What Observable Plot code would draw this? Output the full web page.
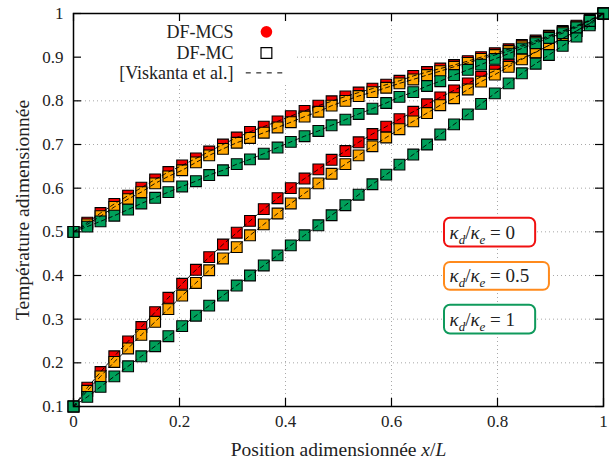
<!DOCTYPE html>
<html><head><meta charset="utf-8">
<script src="https://cdn.jsdelivr.net/npm/d3@7"></script>
<script src="https://cdn.jsdelivr.net/npm/@observablehq/plot@0.6"></script>
<style>body{margin:0;background:#fff}</style>
</head><body><div id="chart"></div>
<script>
// Positions x/L of the markers
const xPos = [0, 0.026, 0.051, 0.077, 0.103, 0.128, 0.154, 0.179, 0.205, 0.231, 0.256, 0.282, 0.308, 0.333, 0.359, 0.385, 0.41, 0.436, 0.462, 0.487, 0.513, 0.538, 0.564, 0.59, 0.615, 0.641, 0.667, 0.692, 0.718, 0.744, 0.769, 0.795, 0.821, 0.846, 0.872, 0.897, 0.923, 0.949, 0.974, 1];

// Lower set (T(0)=0.1)
const redLow = [0.1, 0.143, 0.179, 0.215, 0.249, 0.282, 0.316, 0.349, 0.381, 0.413, 0.442, 0.471, 0.498, 0.525, 0.552, 0.577, 0.600, 0.622, 0.643, 0.665, 0.685, 0.705, 0.724, 0.741, 0.758, 0.775, 0.792, 0.808, 0.824, 0.840, 0.855, 0.869, 0.883, 0.897, 0.912, 0.927, 0.943, 0.960, 0.978, 1.0];
const orangeLow = [0.1, 0.136, 0.169, 0.202, 0.233, 0.264, 0.294, 0.323, 0.354, 0.383, 0.412, 0.439, 0.465, 0.492, 0.517, 0.542, 0.565, 0.588, 0.611, 0.633, 0.655, 0.675, 0.696, 0.716, 0.735, 0.753, 0.772, 0.790, 0.806, 0.826, 0.844, 0.860, 0.878, 0.895, 0.911, 0.927, 0.943, 0.960, 0.977, 1.0];
const greenLow = [0.1, 0.122, 0.145, 0.169, 0.192, 0.215, 0.238, 0.261, 0.284, 0.308, 0.331, 0.354, 0.377, 0.400, 0.423, 0.446, 0.469, 0.492, 0.515, 0.538, 0.561, 0.585, 0.609, 0.631, 0.654, 0.677, 0.700, 0.723, 0.746, 0.769, 0.793, 0.817, 0.840, 0.863, 0.885, 0.905, 0.926, 0.947, 0.973, 1.0];

// Upper set (T(0)=0.5)
const redUp = [0.5, 0.521, 0.543, 0.564, 0.583, 0.601, 0.620, 0.637, 0.652, 0.668, 0.684, 0.700, 0.716, 0.729, 0.741, 0.753, 0.765, 0.777, 0.789, 0.799, 0.810, 0.819, 0.828, 0.837, 0.846, 0.857, 0.866, 0.874, 0.882, 0.891, 0.900, 0.909, 0.918, 0.928, 0.938, 0.949, 0.960, 0.972, 0.985, 1.0];
const orangeUp = [0.5, 0.517, 0.536, 0.557, 0.575, 0.591, 0.611, 0.627, 0.641, 0.659, 0.675, 0.690, 0.704, 0.715, 0.727, 0.739, 0.751, 0.764, 0.775, 0.789, 0.800, 0.811, 0.820, 0.830, 0.840, 0.849, 0.859, 0.868, 0.878, 0.887, 0.896, 0.905, 0.914, 0.925, 0.935, 0.947, 0.958, 0.970, 0.984, 1.0];
const greenUp = [0.5, 0.512, 0.524, 0.537, 0.551, 0.565, 0.578, 0.591, 0.604, 0.616, 0.630, 0.641, 0.655, 0.666, 0.679, 0.693, 0.706, 0.719, 0.731, 0.744, 0.757, 0.770, 0.782, 0.795, 0.809, 0.820, 0.834, 0.845, 0.859, 0.871, 0.883, 0.896, 0.908, 0.920, 0.932, 0.944, 0.955, 0.968, 0.983, 1.0];

const xTicks = [0, 0.2, 0.4, 0.6, 0.8, 1];
const xTickLabels = ["0", "0.2", "0.4", "0.6", "0.8", "1"];
const yTicks = [0.1, 0.2, 0.3, 0.4, 0.5, 0.6, 0.7, 0.8, 0.9, 1];
const yTickLabels = ["0.1", "0.2", "0.3", "0.4", "0.5", "0.6", "0.7", "0.8", "0.9", "1"];
const legendLabels = ["DF-MCS", "DF-MC", "[Viskanta et al.]"];
const ratioLabels = ["κd/κe = 0", "κd/κe = 0.5", "κd/κe = 1"];
const xTitle = "Position adimensionnée x/L";
const yTitle = "Température adimensionnée";

// styles
const FONT = "Liberation Serif";
const fillColors = ["#f20000", "#ffa600", "#00a05a"];
const boxColors = ["#f01010", "#ff8a1c", "#0f9a5c"];
const series = [
  {c: 0, v: redLow}, {c: 0, v: redUp},
  {c: 1, v: orangeLow}, {c: 1, v: orangeUp},
  {c: 2, v: greenLow}, {c: 2, v: greenUp}
];
const idx = d3.range(xPos.length);
const tickLenY = 8 * 0.9 / 393;
const tickLenX = 8 / 530;

// annotation layout (data coordinates)
const boxes = [
  {x1: 0.700, x2: 0.872, y1: 0.465, y2: 0.531},
  {x1: 0.700, x2: 0.898, y1: 0.366, y2: 0.430},
  {x1: 0.700, x2: 0.872, y1: 0.266, y2: 0.332}
];

const marks = [
  Plot.ruleX([0.2, 0.4, 0.6, 0.8], {x: d => d, stroke: "#a8a8a8", strokeWidth: 1, strokeDasharray: "1,3"}),
  Plot.ruleY([0.2, 0.3, 0.4, 0.5, 0.6, 0.7, 0.8, 0.9], {y: d => d, stroke: "#a8a8a8", strokeWidth: 1, strokeDasharray: "1,3"}),
  // legend background
  Plot.rect([0], {x1: 0, x2: 0.421, y1: 0.838, y2: 1, fill: "white"}),
  // data markers
  series.map(s => Plot.dot(idx, {x: i => xPos[i], y: i => s.v[i], symbol: "square", r: 6.1,
    fill: fillColors[s.c], stroke: "black", strokeWidth: 1.1})),
  // reference (Viskanta) dashed curves
  series.map(s => Plot.line(idx, {x: i => xPos[i], y: i => s.v[i], stroke: "black", strokeWidth: 0.9,
    strokeDasharray: "4,3.5"})),
  // ratio label boxes
  boxes.map((b, k) => Plot.rect([b], {x1: "x1", x2: "x2", y1: "y1", y2: "y2", fill: "white",
    stroke: boxColors[k], strokeWidth: 2})),
  boxes.map((b, k) => Plot.text([ratioLabels[k]], {x: b.x1, y: (b.y1 + b.y2) / 2, dx: 5, textAnchor: "start",
    fontSize: 19, fontFamily: FONT, fill: "#222"})),
  // frame and inward ticks
  Plot.frame({stroke: "black", strokeWidth: 1.5}),
  Plot.ruleX(xTicks, {x: d => d, y1: 0.1, y2: 0.1 + tickLenY, stroke: "black", strokeWidth: 1.2}),
  Plot.ruleX(xTicks, {x: d => d, y1: 1 - tickLenY, y2: 1, stroke: "black", strokeWidth: 1.2}),
  Plot.ruleY(yTicks, {y: d => d, x1: 0, x2: tickLenX, stroke: "black", strokeWidth: 1.2}),
  Plot.ruleY(yTicks, {y: d => d, x1: 1 - tickLenX, x2: 1, stroke: "black", strokeWidth: 1.2}),
  // tick labels
  Plot.text(xTickLabels, {x: (d, i) => xTicks[i], frameAnchor: "bottom", dy: 20, fontSize: 17, fontFamily: FONT, fill: "#222"}),
  Plot.text(yTickLabels, {y: (d, i) => yTicks[i], frameAnchor: "left", dx: -10, textAnchor: "end", fontSize: 17, fontFamily: FONT, fill: "#222"}),
  // axis titles
  Plot.text([xTitle], {frameAnchor: "bottom", dy: 49, textAnchor: "middle", fontSize: 19.5, fontFamily: FONT, fill: "#222"}),
  Plot.text([yTitle], {frameAnchor: "left", dx: -51, rotate: -90, textAnchor: "middle", fontSize: 19.5, fontFamily: FONT, fill: "#222"}),
  // legend
  Plot.text(legendLabels, {x: 0.302, y: (d, i) => [0.958, 0.9095, 0.864][i], textAnchor: "end", fontSize: 18, fontFamily: FONT, fill: "#222"}),
  Plot.dot([0], {x: 0.364, y: 0.958, r: 5.8, fill: "#ff0000"}),
  Plot.dot([0], {x: 0.364, y: 0.9095, symbol: "square", r: 6.1, fill: "none", stroke: "black", strokeWidth: 1.2}),
  Plot.ruleY([0.864], {y: d => d, x1: 0.326, x2: 0.397, stroke: "black", strokeWidth: 1, strokeDasharray: "5,5.5"})
];

const svg = Plot.plot({
  width: 609, height: 474,
  marginLeft: 73, marginRight: 6, marginTop: 13, marginBottom: 68,
  x: {domain: [0, 1], axis: null},
  y: {domain: [0.1, 1], axis: null},
  style: {fontFamily: FONT, background: "white"},
  marks
});

// rounded boxes
d3.select(svg).selectAll("g[aria-label='rect'] rect").each(function() {
  if (d3.select(this).attr("stroke") || d3.select(this.parentNode).attr("stroke")) d3.select(this).attr("rx", 6).attr("ry", 6);
});

// math formatting
d3.select(svg).selectAll("text").each(function() {
  const t = this.textContent;
  const sel = d3.select(this);
  if (t.startsWith("κd/κe")) {
    const rest = t.split("= ")[1];
    sel.text(null);
    sel.append("tspan").attr("font-style", "italic").text("κ");
    sel.append("tspan").attr("dy", 5).attr("font-size", 13).attr("font-style", "italic").text("d");
    sel.append("tspan").attr("dy", -5).text("/");
    sel.append("tspan").attr("font-style", "italic").text("κ");
    sel.append("tspan").attr("dy", 5).attr("font-size", 13).attr("font-style", "italic").text("e");
    sel.append("tspan").attr("dy", -5).text(" = " + rest);
  } else if (t === xTitle) {
    sel.text(null);
    sel.append("tspan").text("Position adimensionnée ");
    sel.append("tspan").attr("font-style", "italic").text("x");
    sel.append("tspan").text("/");
    sel.append("tspan").attr("font-style", "italic").text("L");
  }
});

document.getElementById("chart").appendChild(svg);
</script>
</body></html>
